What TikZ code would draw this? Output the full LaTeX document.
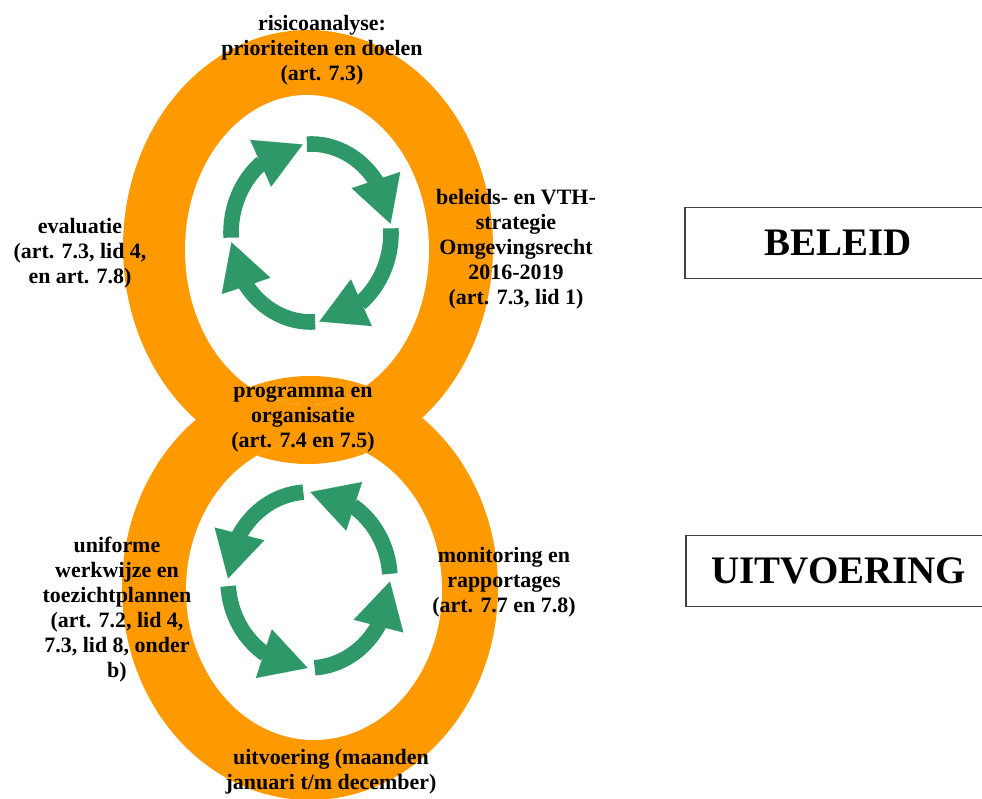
\documentclass[tikz,border=0pt]{standalone}
\usepackage{fontspec}
\setmainfont{Liberation Serif}
\usepackage{xcolor}
\usetikzlibrary{arrows.meta, bending, positioning}

\definecolor{ringorange}{RGB}{255,153,0}
\definecolor{cyclegreen}{RGB}{46,152,104}

\begin{document}
\begin{tikzpicture}[x=0.025cm, y=0.025cm,
    lbl/.style={align=center, inner sep=0pt, font=\fontsize{15.6}{17.8}\selectfont\bfseries},
    phase/.style={draw=black!75, line width=1.1pt, minimum width=7.65cm, minimum height=1.775cm, inner sep=0pt, font=\fontsize{27.7}{30}\selectfont\bfseries},
    cyc/.style={cyclegreen, line width=0.39cm, -{Triangle[width=1.28cm, length=1.15cm, line width=0.01pt]}}]
    \clip (0, 0) rectangle (982, 798);
    \useasboundingbox (0, 0) rectangle (982, 798);

    % figure-8 ring
    \coordinate (to) at (308, 551);
    \coordinate (ti) at (307, 548);
    \coordinate (bo) at (310, 210);
    \coordinate (bi) at (314, 208);
    \fill[ringorange] (to) ellipse[x radius=185, y radius=217];
    \fill[ringorange] (bo) ellipse[x radius=188, y radius=212];
    \fill[white] (ti) ellipse[x radius=122, y radius=155];
    \fill[white] (bi) ellipse[x radius=128, y radius=150];
    \begin{scope}
        \clip (ti) ellipse[x radius=122, y radius=155];
        \fill[ringorange] (bo) ellipse[x radius=188, y radius=212];
    \end{scope}
    \begin{scope}
        \clip (bi) ellipse[x radius=128, y radius=150];
        \fill[ringorange] (to) ellipse[x radius=185, y radius=217];
    \end{scope}

    % cycle arrows
    \coordinate (tc) at (311, 565);
    \coordinate (bc) at (309, 218);
    \draw[cyc] (tc) ++(183:80 and 89) arc[start angle=183, end angle=96, x radius=80, y radius=89];
    \draw[cyc] (tc) ++(93:80 and 89) arc[start angle=93, end angle=6, x radius=80, y radius=89];
    \draw[cyc] (tc) ++(3:80 and 89) arc[start angle=3, end angle=-84, x radius=80, y radius=89];
    \draw[cyc] (tc) ++(-87:80 and 89) arc[start angle=-87, end angle=-174, x radius=80, y radius=89];
    \draw[cyc] (bc) ++(94:81 and 88) arc[start angle=94, end angle=179, x radius=81, y radius=88];
    \draw[cyc] (bc) ++(184:81 and 88) arc[start angle=184, end angle=269, x radius=81, y radius=88];
    \draw[cyc] (bc) ++(274:81 and 88) arc[start angle=274, end angle=359, x radius=81, y radius=88];
    \draw[cyc] (bc) ++(4:81 and 88) arc[start angle=4, end angle=89, x radius=81, y radius=88];

    \node[lbl] (risico) at (322, 748) {risicoanalyse:\\prioriteiten en doelen\\(art. 7.3)};
    \node[lbl] (strategie) at (516, 549) {beleids- en VTH-\\strategie\\Omgevingsrecht\\2016-2019\\(art. 7.3, lid 1)};
    \node[lbl] (evaluatie) at (80, 545) {evaluatie\\(art. 7.3, lid 4,\\en art. 7.8)};
    \node[lbl] (programma) at (303, 379) {programma en\\organisatie\\(art. 7.4 en 7.5)};
    \node[lbl] (werkwijze) at (117, 188) {uniforme\\werkwijze en\\toezichtplannen\\(art. 7.2, lid 4,\\7.3, lid 8, onder\\b)};
    \node[lbl] (monitoring) at (504, 216) {monitoring en\\rapportages\\(art. 7.7 en 7.8)};
    \node[lbl] (uitvoering) at (331, 26) {uitvoering (maanden\\januari t/m december)};

    \node[phase] (beleid) at (838, 555) {BELEID};
    \node[phase] (uitv) at (839, 227) {UITVOERING};
\end{tikzpicture}
\end{document}
